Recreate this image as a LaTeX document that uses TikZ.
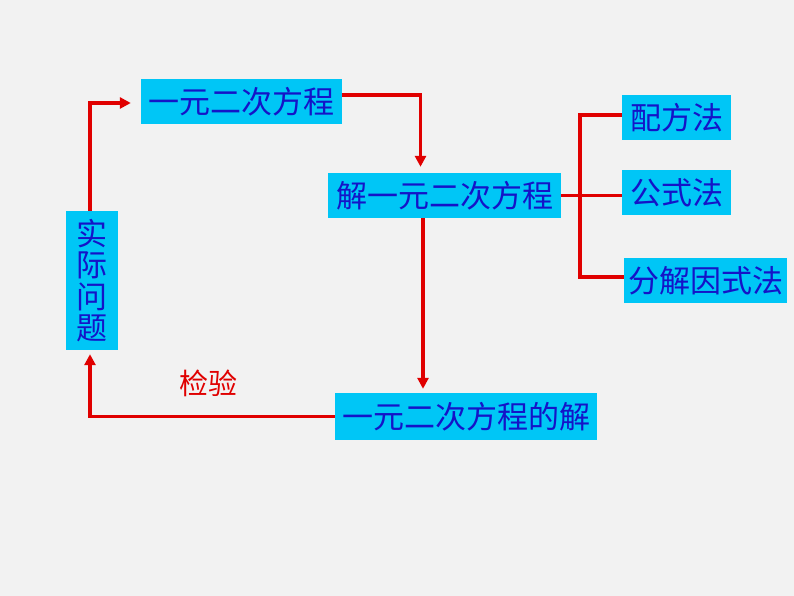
\documentclass[tikz,border=0pt]{standalone}
\usepackage{fontspec}
\newfontfamily\cjk{Noto Sans CJK SC}
\usetikzlibrary{arrows.meta}
\definecolor{bg}{HTML}{F2F2F2}
\definecolor{boxfill}{HTML}{00C6F6}
\definecolor{boxtext}{HTML}{1414C8}
\definecolor{linered}{HTML}{E00000}
\begin{document}
\begin{tikzpicture}[x=1pt,y=-1pt,
  box/.style={fill=boxfill, text=boxtext, inner sep=0pt, font=\cjk\fontsize{31}{31.5}\selectfont, minimum height=45pt},
  conn/.style={draw=linered, line width=3.5pt},
  arr/.style={conn, -{Triangle[length=11pt,width=11pt]}}]
\fill[bg] (0,0) rectangle (794,596);
\useasboundingbox (0,0) rectangle (794,596);
\node[box, minimum width=201pt] (A) at (241.5,101.5) {一元二次方程};
\node[box, minimum width=233pt] (B) at (444.5,195.5) {解一元二次方程};
\node[box, minimum width=109pt] (F1) at (676.5,117.5) {配方法};
\node[box, minimum width=109pt] (F2) at (676.5,192.5) {公式法};
\node[box, minimum width=163pt] (F3) at (705.5,280.5) {分解因式法};
\node[box, minimum width=52pt, minimum height=139pt, align=center] (D) at (92,280.5) {实\\际\\问\\题};
\node[box, minimum width=262pt, minimum height=47pt] (C) at (466,416.5) {一元二次方程的解};
\node[text=linered, font=\cjk\fontsize{29}{29}\selectfont, inner sep=0pt] (K) at (208,383) {检验};
\coordinate (j) at (580,195.5);
\draw[arr, shorten >=6pt] ([yshift=6.5pt]A.east) -| ([xshift=-24pt]B.north);
\draw[arr, shorten >=4pt] ([xshift=-21.5pt]B.south) -- ([xshift=-43pt]C.north);
\draw[arr, shorten >=4pt] (C.west) -| ([xshift=-2pt]D.south);
\draw[arr, shorten >=10pt] ([xshift=-2pt]D.north) |- ([yshift=-1.5pt]A.west);
\draw[conn] (B.east) -- (B.east -| F2.west);
\draw[conn] ([yshift=2.5pt]F1.west) -- ([yshift=2.5pt]F1.west -| j) -- ([yshift=3.5pt]F3.west -| j) -- ([yshift=3.5pt]F3.west);
\end{tikzpicture}
\end{document}
